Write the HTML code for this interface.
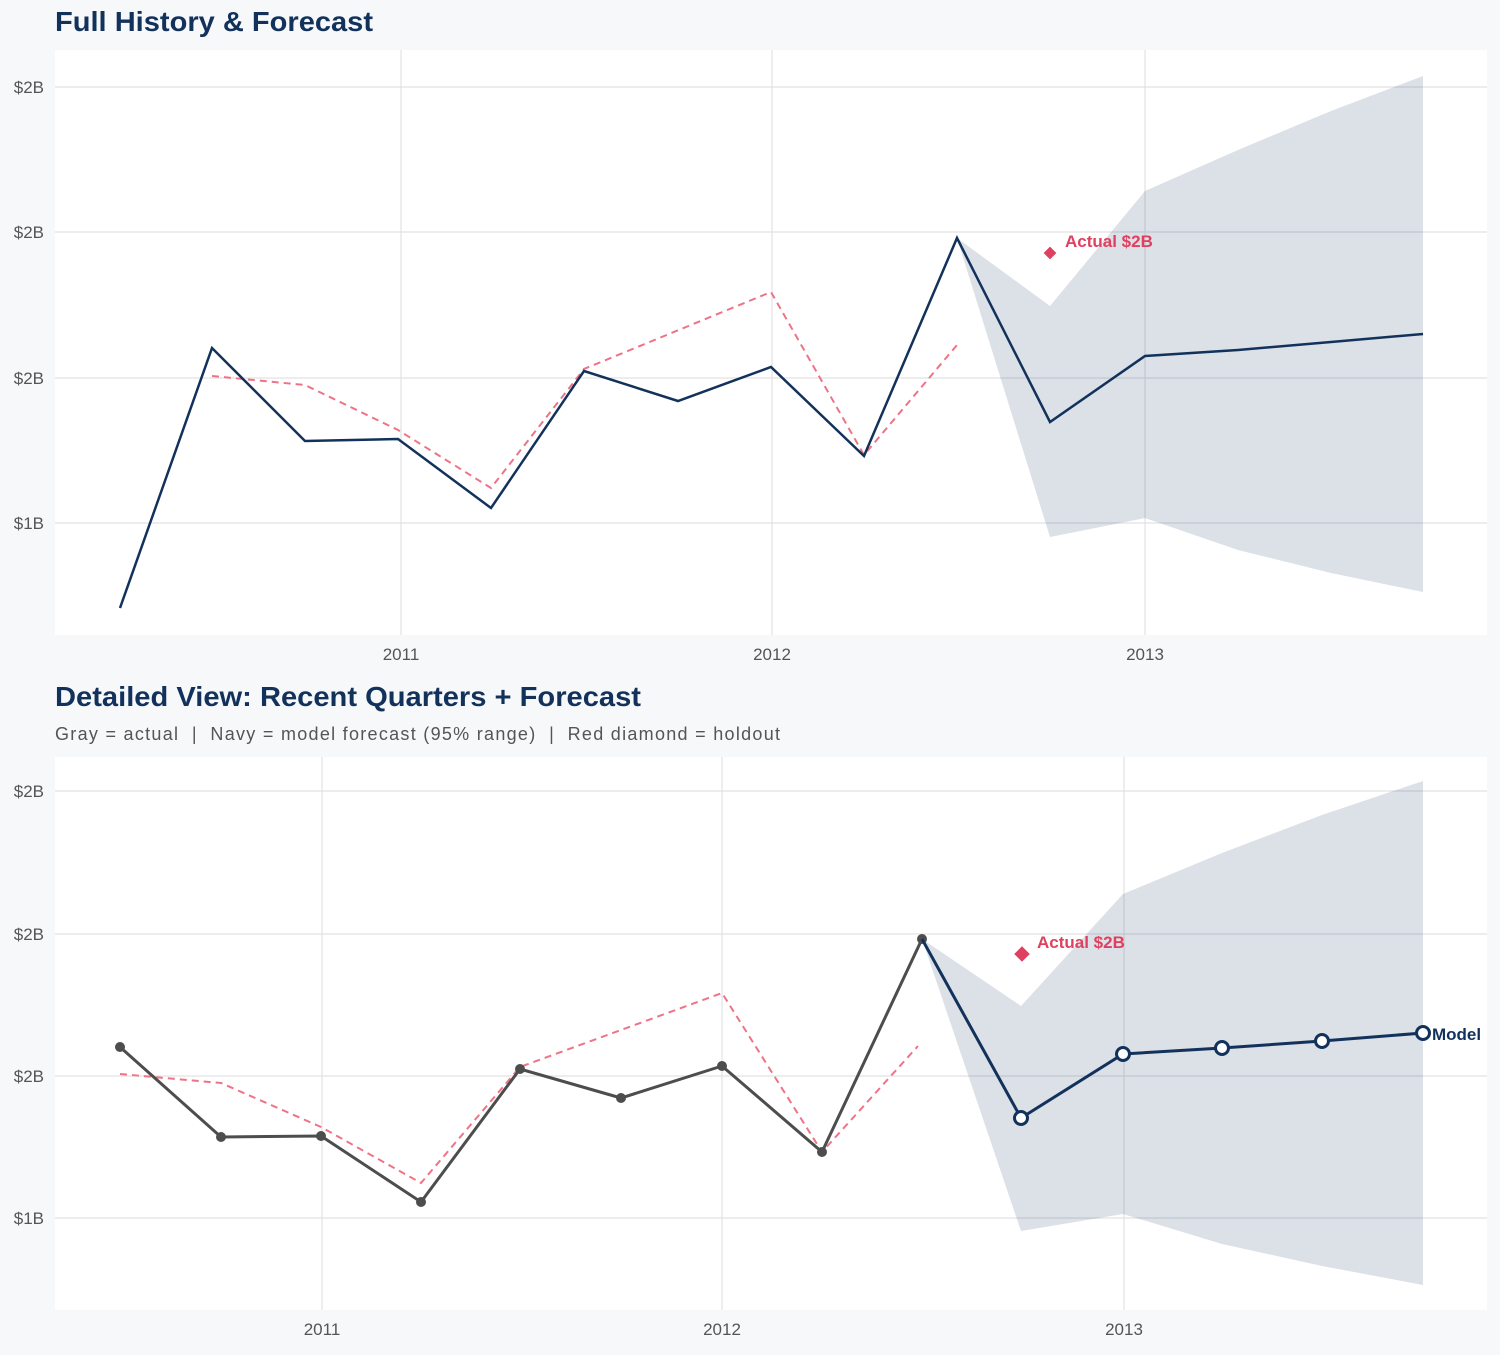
<!DOCTYPE html><html><head><style>body{margin:0;background:#f7f8fa;}svg text{font-family:"Liberation Sans",sans-serif;white-space:pre;}</style></head><body>
<svg width="1500" height="1350" xmlns="http://www.w3.org/2000/svg">
<rect width="1500" height="1350" fill="#f7f8fa"/>
<text x="55" y="31" font-size="28" font-weight="bold" fill="#13325b" textLength="318" lengthAdjust="spacingAndGlyphs">Full History &amp; Forecast</text>
<rect x="55" y="50" width="1432" height="585" fill="#fff"/>
<g stroke="#e2e2e2" stroke-width="1.2"><line x1="55" x2="1487" y1="87" y2="87"/><line x1="55" x2="1487" y1="232" y2="232"/><line x1="55" x2="1487" y1="378" y2="378"/><line x1="55" x2="1487" y1="523" y2="523"/><line x1="401" x2="401" y1="50" y2="635"/><line x1="772" x2="772" y1="50" y2="635"/><line x1="1145" x2="1145" y1="50" y2="635"/></g>
<g font-size="17" fill="#555" text-anchor="end"><text x="44" y="93">$2B</text><text x="44" y="238">$2B</text><text x="44" y="384">$2B</text><text x="44" y="529">$1B</text></g>
<g font-size="17" fill="#555" text-anchor="middle"><text x="401" y="660">2011</text><text x="772" y="660">2012</text><text x="1145" y="660">2013</text></g>
<polygon points="957,238 1050,306 1145,191 1238,150 1331,111 1423,76 1423,592 1331,573 1238,550 1145,518 1050,537" fill="#13325b" fill-opacity="0.15"/>
<polyline points="212,376 305,385 398,430 491,488 584,369 771,292 864,455 957,345" fill="none" stroke="#ef7387" stroke-width="2" stroke-dasharray="7,5"/>
<polyline points="120,608 212,348 305,441 398,439 491,508 584,371 678,401 771,367 864,456 957,238 1050,422 1145,356 1238,350 1331,342 1423,334" fill="none" stroke="#13325b" stroke-width="2.5"/>
<rect x="1045.5" y="248.5" width="9" height="9" fill="#e0405f" transform="rotate(45 1050 253)"/>
<text x="1065" y="247" font-size="17" font-weight="bold" fill="#e0405f">Actual $2B</text>

<text x="55" y="706" font-size="28" font-weight="bold" fill="#13325b" textLength="586" lengthAdjust="spacingAndGlyphs">Detailed View: Recent Quarters + Forecast</text>
<text x="55" y="740" font-size="18" fill="#555" textLength="725">Gray = actual  |  Navy = model forecast (95% range)  |  Red diamond = holdout</text>
<rect x="55" y="757" width="1432" height="553" fill="#fff"/>
<g stroke="#e2e2e2" stroke-width="1.2"><line x1="55" x2="1487" y1="791" y2="791"/><line x1="55" x2="1487" y1="934" y2="934"/><line x1="55" x2="1487" y1="1076" y2="1076"/><line x1="55" x2="1487" y1="1218" y2="1218"/><line x1="322" x2="322" y1="757" y2="1310"/><line x1="722" x2="722" y1="757" y2="1310"/><line x1="1124" x2="1124" y1="757" y2="1310"/></g>
<g font-size="17" fill="#555" text-anchor="end"><text x="44" y="797">$2B</text><text x="44" y="940">$2B</text><text x="44" y="1082">$2B</text><text x="44" y="1224">$1B</text></g>
<g font-size="17" fill="#555" text-anchor="middle"><text x="322" y="1335">2011</text><text x="722" y="1335">2012</text><text x="1124" y="1335">2013</text></g>
<polygon points="922,939 1021,1006 1123,894 1222,853 1322,815 1423,781 1423,1285 1322,1266 1222,1244 1123,1214 1021,1231" fill="#13325b" fill-opacity="0.15"/>
<polyline points="120,1074 221,1083 321,1127 421,1183 520,1067 722,993 822,1152 918,1046" fill="none" stroke="#ef7387" stroke-width="2" stroke-dasharray="7,5"/>
<polyline points="120,1047 221,1137 321,1136 421,1202 520,1069 621,1098 722,1066 822,1152 922,939" fill="none" stroke="#4d4d4d" stroke-width="3"/>
<g fill="#4d4d4d"><circle cx="120" cy="1047" r="5"/><circle cx="221" cy="1137" r="5"/><circle cx="321" cy="1136" r="5"/><circle cx="421" cy="1202" r="5"/><circle cx="520" cy="1069" r="5"/><circle cx="621" cy="1098" r="5"/><circle cx="722" cy="1066" r="5"/><circle cx="822" cy="1152" r="5"/><circle cx="922" cy="939" r="5"/></g>
<polyline points="922,939 1021,1118 1123,1054 1222,1048 1322,1041 1423,1033" fill="none" stroke="#13325b" stroke-width="3"/>
<g fill="#fff" stroke="#13325b" stroke-width="3"><circle cx="1021" cy="1118" r="6.5"/><circle cx="1123" cy="1054" r="6.5"/><circle cx="1222" cy="1048" r="6.5"/><circle cx="1322" cy="1041" r="6.5"/><circle cx="1423" cy="1033" r="6.5"/></g>
<rect x="1016.5" y="948.5" width="11" height="11" fill="#e0405f" transform="rotate(45 1022 954)"/>
<text x="1037" y="948" font-size="17" font-weight="bold" fill="#e0405f">Actual $2B</text>
<text x="1432" y="1040" font-size="17" font-weight="bold" fill="#13325b">Model</text>
</svg></body></html>
